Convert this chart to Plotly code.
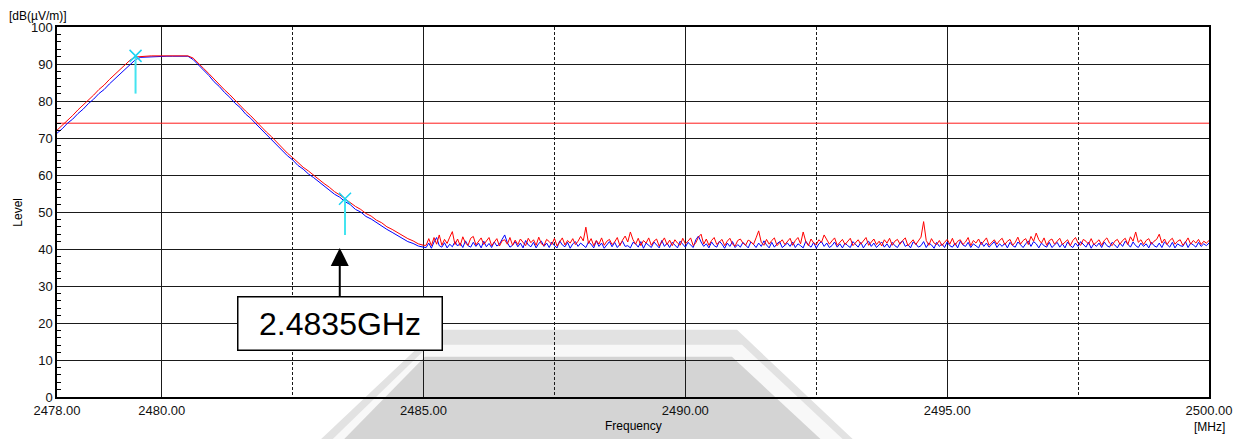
import plotly.graph_objects as go

# ---------------- data ----------------
# sweep grid (MHz)
freq_slope = [round(2478.0 + 0.1 * i, 2) for i in range(71)]          # 2478.0 .. 2485.0
freq_floor = [round(2485.0 + 0.05 * i, 2) for i in range(1, 301)]     # 2485.05 .. 2500.0

red_slope = [
    72.1, 73.4, 74.9, 76.1, 77.6, 78.9, 80.4, 81.6, 83.1, 84.3,
    85.8, 87.1, 88.5, 89.9, 91.1, 91.9, 92.1, 92.1, 92.2, 92.1,
    92.2, 92.2, 92.2, 92.2, 92.2, 92.2, 91.6, 90.3, 88.8, 87.4,
    85.9, 84.6, 83.0, 81.7, 80.2, 78.9, 77.3, 76.0, 74.5, 73.2,
    71.6, 70.3, 68.8, 67.5, 65.9, 64.7, 63.4, 62.1, 61.1, 59.9,
    58.9, 57.7, 56.7, 55.5, 54.6, 53.5, 52.6, 51.5, 50.7, 49.6,
    48.9, 47.8, 47.1, 46.0, 45.3, 44.4, 43.7, 42.8, 42.2, 41.4,
    41.0,
]
blue_slope = [
    71.3, 72.5, 74.0, 75.1, 76.6, 77.8, 79.3, 80.5, 82.0, 83.1,
    84.6, 85.9, 87.3, 88.6, 90.0, 91.2, 91.8, 91.9, 92.0, 91.9,
    92.0, 92.1, 92.1, 92.1, 92.1, 92.1, 91.2, 89.8, 88.2, 86.9,
    85.2, 83.9, 82.3, 81.0, 79.4, 78.2, 76.5, 75.3, 73.8, 72.4,
    70.9, 69.6, 68.0, 66.8, 65.2, 64.1, 62.6, 61.6, 60.3, 59.3,
    58.2, 57.0, 56.1, 54.8, 54.0, 52.8, 52.0, 50.7, 50.0, 48.8,
    48.1, 47.1, 46.2, 45.3, 44.5, 43.6, 42.9, 42.0, 41.5, 40.8,
    40.5,
]

red_floor = [
    41.0, 42.8, 40.9, 43.1, 41.3, 43.8, 41.0, 42.6, 41.5, 43.2, 44.7, 41.2, 42.7, 40.9, 43.3, 41.6, 41.0, 42.9, 43.4, 41.1,
    42.1, 43.0, 41.2, 42.3, 43.1, 40.9, 41.8, 42.8, 40.8, 42.2, 42.5, 41.3, 43.1, 41.0, 42.4, 41.2, 42.7, 41.9, 40.9, 42.9,
    41.7, 42.5, 41.0, 43.2, 41.4, 40.9, 42.6, 42.0, 41.2, 42.9, 40.8, 41.9, 43.0, 41.1, 42.3, 41.6, 42.8, 41.2, 42.1, 43.4,
    42.2, 45.9, 41.5, 42.8, 40.9, 42.3, 41.3, 43.0, 41.0, 42.1, 42.6, 41.2, 41.9, 43.1, 40.9, 42.4, 43.5, 41.9, 44.6, 42.5,
    41.3, 42.9, 40.9, 42.3, 41.6, 43.0, 41.0, 42.1, 42.7, 40.8, 41.9, 43.0, 41.2, 42.4, 40.9, 42.5, 41.6, 41.0, 42.9, 41.4,
    42.1, 43.0, 40.9, 41.7, 43.2, 44.0, 41.3, 42.7, 41.0, 42.3, 43.1, 41.2, 41.9, 42.6, 40.9, 42.1, 42.9, 41.3, 40.8, 42.3,
    42.7, 41.6, 41.0, 42.4, 42.0, 41.2, 43.0, 44.9, 41.8, 41.0, 42.6, 41.3, 42.3, 43.0, 40.9, 41.8, 42.5, 41.2, 42.1, 42.9,
    41.0, 42.3, 43.1, 41.4, 44.6, 42.0, 40.9, 42.7, 41.6, 41.2, 42.5, 41.8, 43.8, 42.6, 41.3, 42.2, 43.0, 41.0, 41.9, 42.6,
    41.2, 42.1, 42.9, 40.9, 41.7, 42.5, 41.3, 42.3, 43.1, 41.0, 41.8, 42.7, 41.2, 42.1, 40.8, 42.5, 41.6, 42.9, 41.0, 42.1,
    42.6, 41.3, 42.3, 43.0, 40.9, 41.8, 42.5, 41.2, 42.1, 43.2, 47.4, 42.3, 41.0, 42.8, 41.6, 41.2, 42.3, 40.9, 41.8, 42.6,
    41.3, 42.9, 41.0, 42.1, 42.5, 41.2, 41.9, 43.1, 40.9, 42.3, 41.6, 42.7, 41.2, 42.1, 43.0, 41.0, 41.8, 42.5, 41.3, 42.3,
    42.9, 41.2, 42.1, 42.6, 41.0, 41.8, 43.2, 41.3, 42.3, 42.8, 41.2, 43.4, 42.1, 44.3, 42.5, 41.6, 43.0, 41.0, 42.3, 42.7,
    41.3, 42.1, 42.9, 41.2, 41.8, 42.5, 40.9, 42.3, 43.1, 41.6, 41.0, 42.6, 42.1, 41.3, 42.8, 41.2, 41.8, 42.5, 41.0, 42.3,
    43.0, 41.6, 40.9, 42.1, 42.6, 41.3, 42.3, 42.9, 41.2, 43.3, 42.1, 44.6, 41.8, 42.5, 41.2, 42.3, 42.8, 41.3, 42.1, 42.6,
    44.0, 41.6, 42.7, 41.2, 42.3, 42.9, 41.3, 42.1, 42.5, 41.0, 41.8, 43.0, 41.3, 42.3, 41.6, 42.6, 41.2, 42.1, 41.6, 42.3,
]
blue_floor = [
    40.4, 41.6, 40.2, 41.9, 43.1, 40.9, 40.5, 41.7, 40.3, 41.3, 40.6, 42.0, 40.8, 41.6, 40.4, 42.2, 40.9, 40.5, 41.8, 40.7,
    41.6, 40.3, 42.1, 40.6, 41.5, 40.4, 41.9, 40.8, 41.3, 42.6, 43.8, 41.7, 40.5, 41.0, 42.0, 40.6, 41.6, 40.3, 42.3, 41.1,
    40.6, 41.8, 40.3, 41.5, 42.1, 40.7, 41.6, 40.4, 41.9, 40.9, 40.3, 42.2, 41.1, 40.6, 41.8, 40.2, 41.4, 42.0, 40.7, 41.6,
    40.9, 40.4, 41.9, 41.3, 40.3, 42.2, 40.7, 41.6, 40.2, 41.2, 42.0, 40.6, 41.8, 40.4, 41.4, 42.1, 40.7, 40.9, 40.3, 41.8,
    41.4, 40.5, 42.0, 40.2, 41.6, 40.9, 40.4, 41.9, 41.1, 40.3, 42.3, 40.7, 41.6, 40.4, 41.8, 40.9, 40.3, 42.1, 41.3, 40.5,
    41.8, 41.1, 40.4, 42.5, 43.5, 41.9, 40.7, 41.4, 40.3, 41.9, 40.9, 40.5, 42.1, 41.3, 40.2, 41.6, 40.7, 42.0, 40.4, 41.2,
    40.5, 41.8, 40.9, 40.3, 41.9, 41.3, 40.4, 41.6, 40.7, 42.2, 41.1, 40.3, 41.8, 40.5, 41.4, 42.0, 40.4, 40.9, 41.6, 40.7,
    41.9, 40.4, 41.4, 40.9, 40.3, 42.1, 41.1, 40.5, 41.8, 40.2, 41.4, 42.0, 40.7, 41.6, 40.4, 40.9, 41.9, 40.5, 41.4, 40.3,
    41.6, 40.9, 40.4, 42.0, 41.1, 40.5, 41.8, 40.3, 41.4, 42.1, 40.7, 41.6, 40.4, 41.2, 41.9, 40.5, 41.4, 40.3, 41.8, 40.9,
    40.4, 41.6, 42.2, 40.7, 41.2, 40.3, 41.9, 41.4, 40.5, 40.9, 42.0, 40.4, 41.6, 41.1, 40.2, 41.8, 40.7, 41.4, 40.4, 41.9,
    40.9, 40.5, 41.6, 40.3, 42.1, 41.1, 40.7, 41.8, 40.4, 41.4, 40.9, 40.3, 41.9, 40.7, 41.6, 40.5, 41.2, 42.0, 40.4, 41.4,
    40.7, 41.6, 40.3, 41.8, 40.9, 40.5, 41.9, 41.1, 40.4, 41.4, 42.2, 40.7, 42.0, 41.4, 40.3, 41.6, 40.9, 40.5, 41.8, 40.4,
    41.1, 41.8, 40.5, 41.4, 40.3, 41.9, 40.9, 40.4, 41.6, 40.7, 42.0, 41.1, 40.5, 41.8, 40.2, 41.4, 40.7, 41.6, 40.4, 41.9,
    40.9, 40.5, 41.8, 41.1, 40.3, 41.6, 40.7, 42.1, 41.4, 40.5, 41.9, 40.9, 40.4, 41.6, 40.7, 41.4, 40.3, 41.8, 40.9, 40.5,
    41.6, 40.4, 41.9, 41.1, 40.5, 41.8, 40.3, 41.4, 40.9, 40.7, 42.0, 40.4, 41.6, 41.1, 40.5, 41.8, 40.7, 41.4, 40.9, 41.6,
]

limit_freq = [2478.0, 2500.0]
limit_level = [74.0, 74.0]

marker_freq = [2479.5, 2483.5]
marker_level = [92.2, 53.6]
marker_stem_bottom = [82.0, 43.8]

band_edge_label = "2.4835GHz"
band_edge_freq = 2483.4
arrow_tip_level = 40.3
label_level = 19.8

x_tickvals = [2478, 2480, 2485, 2490, 2495, 2500]
x_ticktext = ["2478.00", "2480.00", "2485.00", "2490.00", "2495.00", "2500.00"]
x_dashed_grid = [2482.5, 2487.5, 2492.5, 2497.5]

# ---------------- figure ----------------
FONT = "Arial, Liberation Sans, sans-serif"
fig = go.Figure()

fig.add_trace(go.Scatter(x=limit_freq, y=limit_level, mode="lines",
                         line=dict(color="#ff1a1a", width=1), hoverinfo="skip"))
fig.add_trace(go.Scatter(x=freq_slope + freq_floor, y=blue_slope + blue_floor, mode="lines",
                         line=dict(color="#0000ff", width=1)))
fig.add_trace(go.Scatter(x=freq_slope + freq_floor, y=red_slope + red_floor, mode="lines",
                         line=dict(color="#ff0000", width=1)))
for f, lv, lb in zip(marker_freq, marker_level, marker_stem_bottom):
    fig.add_trace(go.Scatter(x=[f, f], y=[lb, lv], mode="lines",
                             line=dict(color="#44e4f0", width=2)))
fig.add_trace(go.Scatter(x=marker_freq, y=marker_level, mode="markers",
                         marker=dict(symbol="x-thin-open", size=12,
                                     line=dict(color="#44e4f0", width=1.5))))

# page has an 8 px body offset; plot area target in page pixels
OFF = 8
L, R, T, B = 57.3, 1208.8, 26.7, 397.3
FW, FH = 1248 - OFF, 439 - OFF

def px(xp, yp):
    return (xp - L) / (R - L), (B - yp) / (B - T)

def poly(points):
    pts = [px(a, b) for a, b in points]
    return "M " + " L ".join(f"{a:.4f},{b:.4f}" for a, b in pts) + " Z"

# watermark (decorative)
shapes = [
    dict(type="path", xref="paper", yref="paper", layer="below", line=dict(width=0),
         fillcolor="#e2e2e2",
         path=poly([(437, 330), (737, 330), (866, 452), (308, 452)])),
    dict(type="path", xref="paper", yref="paper", layer="below", line=dict(width=0),
         fillcolor="#f8f8f8",
         path=poly([(430, 345), (742, 345), (856, 452), (320, 452)])),
    dict(type="path", xref="paper", yref="paper", layer="below", line=dict(width=0),
         fillcolor="#d4d4d4",
         path=poly([(425, 357), (732, 357), (834, 452), (332, 452)])),
]

ann = [
    dict(x=band_edge_freq, y=arrow_tip_level, ax=band_edge_freq, ay=label_level,
         xref="x", yref="y", axref="x", ayref="y",
         text=band_edge_label, showarrow=True, arrowhead=2, arrowsize=1.8,
         arrowwidth=2, arrowcolor="black", standoff=0,
         font=dict(family=FONT, size=32, color="black"),
         bgcolor="white", bordercolor="black", borderwidth=1.5, borderpad=5,
         width=193, height=42),
    dict(x=px(8, 0)[0], y=px(0, 8)[1], xref="paper", yref="paper", text="[dB(µV/m)]",
         showarrow=False, xanchor="left", yanchor="top", borderpad=0,
         font=dict(family=FONT, size=12, color="black")),
    dict(x=px(18, 0)[0], y=0.5, xref="paper", yref="paper", text="Level", textangle=-90,
         showarrow=False, xanchor="center", yanchor="middle",
         font=dict(family=FONT, size=12, color="black")),
    dict(x=0.5, y=px(0, 426.5)[1], xref="paper", yref="paper", text="Frequency",
         showarrow=False, xanchor="center", yanchor="middle",
         font=dict(family=FONT, size=12, color="black")),
    dict(x=px(1209.5, 0)[0], y=px(0, 427.5)[1], xref="paper", yref="paper", text="[MHz]",
         showarrow=False, xanchor="center", yanchor="middle", borderpad=0,
         font=dict(family=FONT, size=12, color="black")),
]

fig.update_layout(
    width=FW, height=FH,
    margin=dict(l=L - OFF, r=FW - (R - OFF), t=T - OFF, b=FH - (B - OFF), pad=0),
    paper_bgcolor="white", plot_bgcolor="rgba(0,0,0,0)",
    showlegend=False,
    font=dict(family=FONT, size=13, color="black"),
    shapes=shapes, annotations=ann,
)
fig.update_xaxes(
    range=[2478, 2500], tickmode="array", tickvals=x_tickvals, ticktext=x_ticktext,
    showgrid=True, gridcolor="#1a1a1a", gridwidth=1,
    ticks="outside", ticklen=1, tickcolor="rgba(0,0,0,0)",
    tickfont=dict(family=FONT, size=13, color="#111"),
    showline=True, linecolor="black", linewidth=1.5, mirror=True, zeroline=False,
    minor=dict(tickmode="array", tickvals=x_dashed_grid, showgrid=True,
               gridcolor="#1a1a1a", griddash="3px,2px", gridwidth=1, ticks=""),
)
fig.update_yaxes(
    range=[0, 100], tickmode="linear", tick0=0, dtick=10,
    showgrid=True, gridcolor="#1a1a1a", gridwidth=1,
    ticks="", tickfont=dict(family=FONT, size=13, color="#111"),
    showline=True, linecolor="black", linewidth=1.5, mirror=True, zeroline=False,
    minor=dict(tickmode="linear", dtick=2, ticks="inside", ticklen=4,
               tickcolor="black", showgrid=False),
)

fig.write_html("out.html")
